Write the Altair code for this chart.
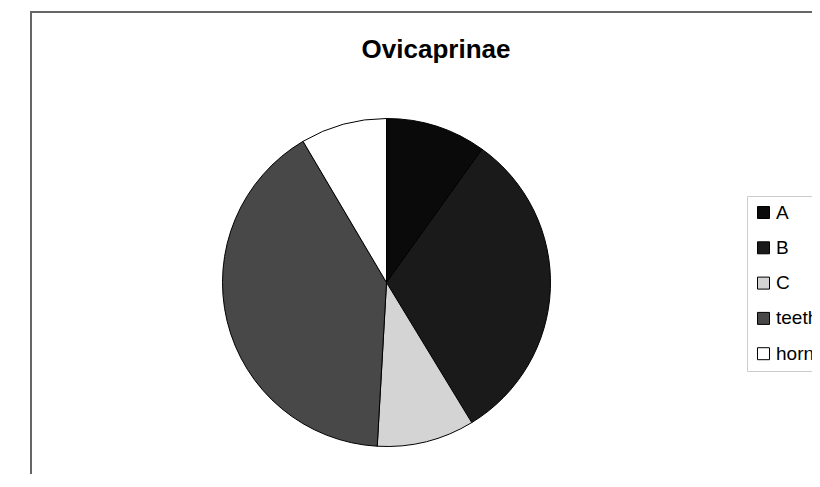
import altair as alt
import pandas as pd

TITLE = "Ovicaprinae"
categories = ["A", "B", "C", "teeth", "horns"]
values = [9.9, 31.4, 9.6, 40.6, 8.5]
colors = ["#0a0a0a", "#1a1a1a", "#d4d4d4", "#484848", "#ffffff"]

df = pd.DataFrame({"category": categories, "value": values, "idx": list(range(len(categories)))})
title_df = pd.DataFrame({"t": [TITLE]})
one = pd.DataFrame({"k": [0]})

arcs = alt.Chart(df).mark_arc(radius=164, stroke="black", strokeWidth=1).encode(
    theta=alt.Theta("value:Q", stack=True),
    color=alt.Color(
        "category:N",
        scale=alt.Scale(domain=categories, range=colors),
        sort=categories,
        legend=alt.Legend(
            title=None,
            orient="none",
            legendX=739,
            legendY=188,
            symbolType="square",
            symbolSize=144,
            symbolStrokeColor="black",
            symbolStrokeWidth=1,
            labelFont="Liberation Sans",
            labelFontSize=19,
            labelColor="black",
            labelOffset=3,
            labelLimit=300,
            padding=7,
            rowPadding=15.3,
            fillColor="white",
            strokeColor="#cccccc",
        ),
    ),
    order=alt.Order("idx:Q"),
    x=alt.value(378.5),
    y=alt.value(274.5),
)

title = alt.Chart(title_df).mark_text(
    font="Liberation Sans", fontSize=26, fontWeight="bold", color="black",
    align="center", baseline="alphabetic"
).encode(text="t:N", x=alt.value(428), y=alt.value(50))

left_rule = alt.Chart(one).mark_rule(color="#666666", strokeWidth=2).encode(
    x=alt.value(23), y=alt.value(3), y2=alt.value(470)
)
top_rule = alt.Chart(one).mark_rule(color="#666666", strokeWidth=2).encode(
    x=alt.value(22), x2=alt.value(804), y=alt.value(4)
)

chart = alt.layer(left_rule, top_rule, arcs, title).properties(
    width=804, height=466, padding=0,
    autosize=alt.AutoSizeParams(type="none"),
).configure_view(stroke=None)

chart.save("out.html", embed_options={"renderer": "svg", "actions": False})
